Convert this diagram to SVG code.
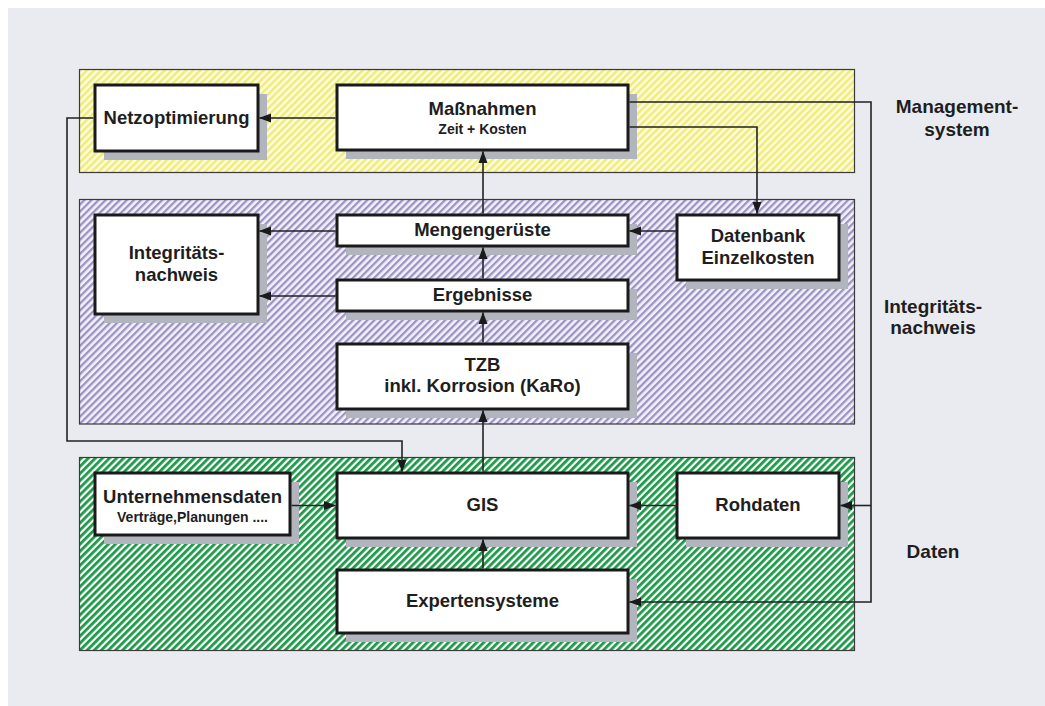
<svg xmlns="http://www.w3.org/2000/svg" width="1045" height="706" viewBox="0 0 1045 706">
<defs>
<style>
.band{stroke:#3a3a3a;stroke-width:1.2}
.box{fill:#ffffff;stroke:#1a1a1a;stroke-width:3}
.sh{fill:#b3b5be}
.t{font-family:"Liberation Sans",Arial,sans-serif;font-weight:bold;fill:#1e1e1e;text-anchor:middle}
.l{font-size:18.5px}
.s{font-size:14px}
.side{font-size:19px}
.c{fill:none;stroke:#222;stroke-width:1.6}
</style>
<pattern id="pY" patternUnits="userSpaceOnUse" width="5" height="10" patternTransform="rotate(45)">
<rect width="5" height="10" fill="#fbfbe6"/><rect width="2.5" height="10" fill="#f1ec72"/>
</pattern>
<pattern id="pP" patternUnits="userSpaceOnUse" width="5" height="10" patternTransform="rotate(45)">
<rect width="5" height="10" fill="#f3f1f8"/><rect width="2.3" height="10" fill="#9c92c6"/>
</pattern>
<pattern id="pG" patternUnits="userSpaceOnUse" width="5" height="10" patternTransform="rotate(45)">
<rect width="5" height="10" fill="#ffffff"/><rect width="2.8" height="10" fill="#1c9a48"/>
</pattern>
<marker id="ar" viewBox="0 0 12 10" markerUnits="userSpaceOnUse" markerWidth="12" markerHeight="10" refX="11.5" refY="5" orient="auto">
<path d="M0,0.5 L12,5 L0,9.5 z" fill="#1a1a1a"/>
</marker>
</defs>
<rect x="0" y="0" width="1045" height="706" fill="#ffffff"/>
<rect x="8" y="8" width="1037" height="698" fill="#eaebf0"/>

<g id="bands">
<rect class="band" x="79.5" y="69.5" width="775" height="103" fill="url(#pY)"/>
<rect class="band" x="79.5" y="199.5" width="775" height="224.5" fill="url(#pP)"/>
<rect class="band" x="79.5" y="457.5" width="775" height="193" fill="url(#pG)"/>
</g>

<g id="side-labels">
<text class="t side" x="957" y="113">Management-</text>
<text class="t side" x="957" y="136">system</text>
<text class="t side" x="933" y="313">Integritäts-</text>
<text class="t side" x="933" y="334">nachweis</text>
<text class="t side" x="933" y="558">Daten</text>
</g>

<g id="netzoptimierung">
<rect class="sh" x="104" y="94" width="163" height="66"/>
<rect class="box" x="95" y="85" width="163" height="66"/>
<text class="t l" x="176.5" y="124">Netzoptimierung</text>
</g>
<g id="massnahmen">
<rect class="sh" x="346" y="94" width="291" height="65"/>
<rect class="box" x="337" y="85" width="291" height="65"/>
<text class="t l" x="482.5" y="115">Maßnahmen</text>
<text class="t s" x="482.5" y="134">Zeit + Kosten</text>
</g>
<g id="integritaetsnachweis">
<rect class="sh" x="104" y="224" width="163" height="99"/>
<rect class="box" x="95" y="215" width="163" height="99"/>
<text class="t l" x="176.5" y="259">Integritäts-</text>
<text class="t l" x="176.5" y="281">nachweis</text>
</g>
<g id="mengengerueste">
<rect class="sh" x="346" y="224" width="291" height="31"/>
<rect class="box" x="337" y="215" width="291" height="31"/>
<text class="t l" x="482.5" y="236">Mengengerüste</text>
</g>
<g id="ergebnisse">
<rect class="sh" x="346" y="289" width="291" height="31"/>
<rect class="box" x="337" y="280" width="291" height="31"/>
<text class="t l" x="482.5" y="301">Ergebnisse</text>
</g>
<g id="tzb">
<rect class="sh" x="346" y="353" width="291" height="65"/>
<rect class="box" x="337" y="344" width="291" height="65"/>
<text class="t l" x="482.5" y="371">TZB</text>
<text class="t l" x="482.5" y="392">inkl. Korrosion (KaRo)</text>
</g>
<g id="datenbank">
<rect class="sh" x="686" y="224" width="162" height="65"/>
<rect class="box" x="677" y="215" width="162" height="65"/>
<text class="t l" x="758" y="242">Datenbank</text>
<text class="t l" x="758" y="264">Einzelkosten</text>
</g>
<g id="unternehmensdaten">
<rect class="sh" x="104" y="482" width="195" height="62"/>
<rect class="box" x="95" y="473" width="195" height="62"/>
<text class="t l" x="192.5" y="503">Unternehmensdaten</text>
<text class="t s" x="192.5" y="522">Verträge,Planungen  ....</text>
</g>
<g id="gis">
<rect class="sh" x="346" y="482" width="291" height="65"/>
<rect class="box" x="337" y="473" width="291" height="65"/>
<text class="t l" x="482.5" y="511">GIS</text>
</g>
<g id="rohdaten">
<rect class="sh" x="686" y="482" width="162" height="65"/>
<rect class="box" x="677" y="473" width="162" height="65"/>
<text class="t l" x="758" y="511">Rohdaten</text>
</g>
<g id="expertensysteme">
<rect class="sh" x="346" y="579" width="291" height="63"/>
<rect class="box" x="337" y="570" width="291" height="63"/>
<text class="t l" x="482.5" y="607">Expertensysteme</text>
</g>

<g id="connectors">
<path class="c" d="M335.5,118 H259.5" marker-end="url(#ar)"/>
<path class="c" d="M93.5,118 H67 V441 H402 V471.5" marker-end="url(#ar)"/>
<path class="c" d="M629.5,102 H871 V602 H629.5" marker-end="url(#ar)"/>
<path class="c" d="M871,505.5 H840.5" marker-end="url(#ar)"/>
<path class="c" d="M629.5,127 H757 V213.5" marker-end="url(#ar)"/>
<path class="c" d="M675.5,231 H629.5" marker-end="url(#ar)"/>
<path class="c" d="M335.5,231 H259.5" marker-end="url(#ar)"/>
<path class="c" d="M335.5,296 H259.5" marker-end="url(#ar)"/>
<path class="c" d="M483,213.5 V151.5" marker-end="url(#ar)"/>
<path class="c" d="M483,278.5 V247.5" marker-end="url(#ar)"/>
<path class="c" d="M483,342.5 V312.5" marker-end="url(#ar)"/>
<path class="c" d="M483,471.5 V410.5" marker-end="url(#ar)"/>
<path class="c" d="M483,568.5 V539.5" marker-end="url(#ar)"/>
<path class="c" d="M291.5,505.5 H335.5" marker-end="url(#ar)"/>
<path class="c" d="M675.5,505.5 H629.5" marker-end="url(#ar)"/>
</g>
</svg>
